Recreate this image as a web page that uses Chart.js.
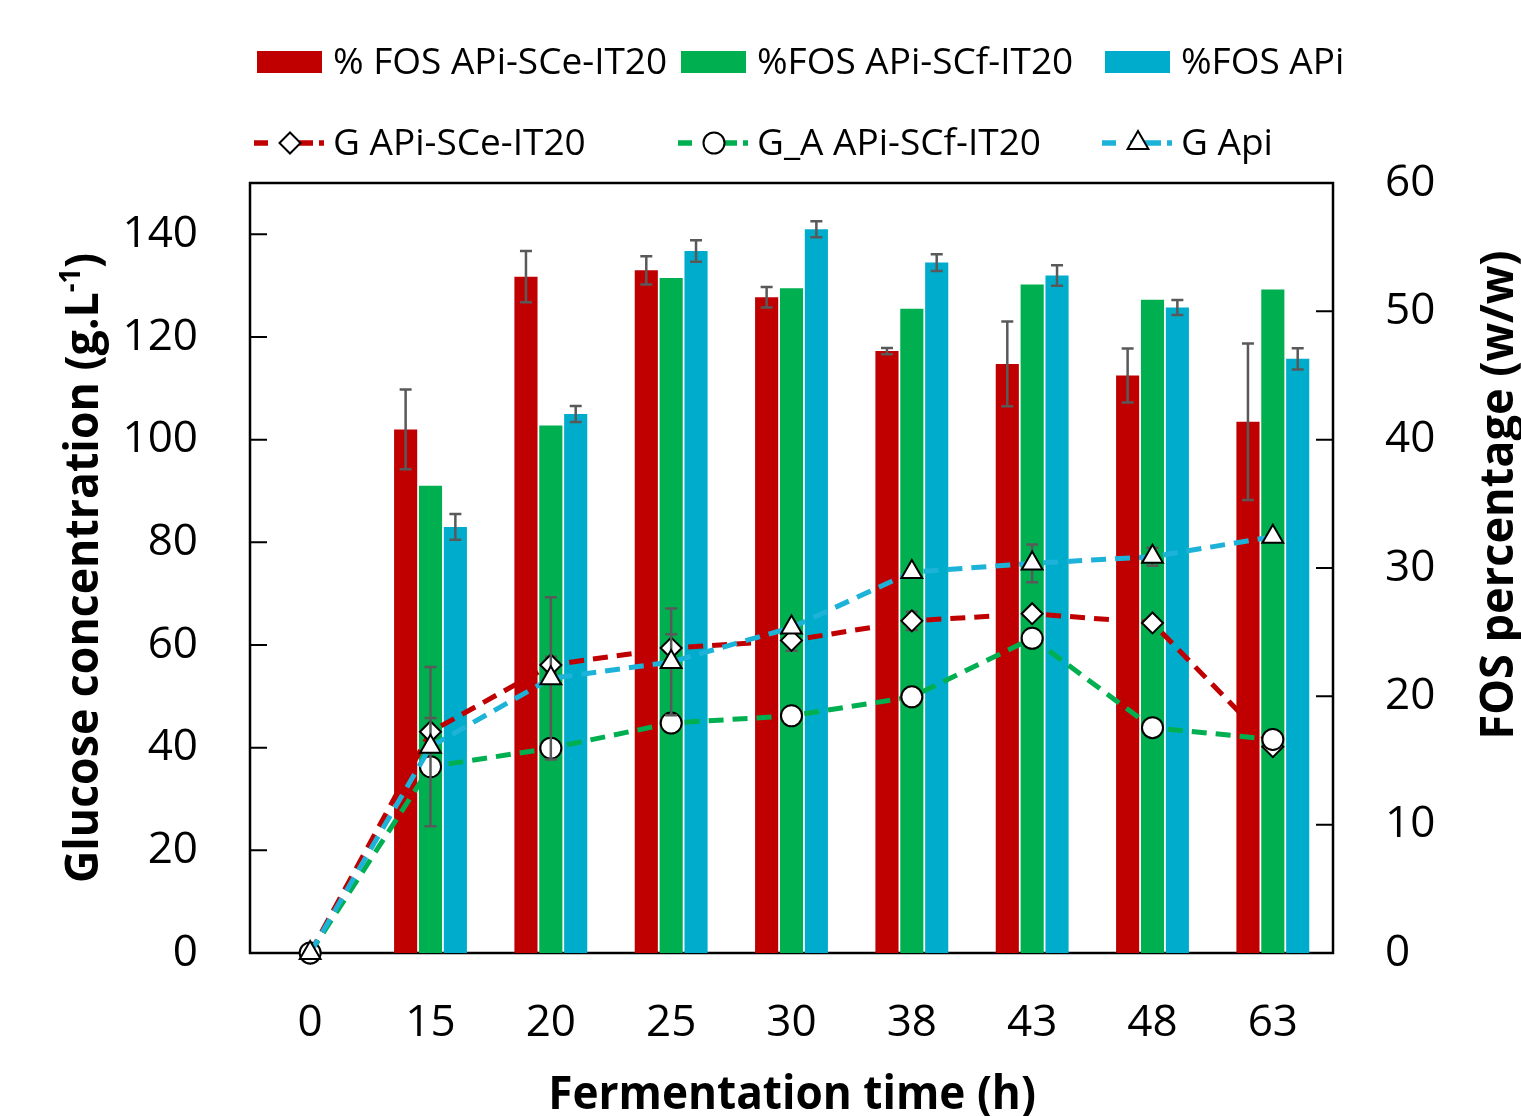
<!DOCTYPE html>
<html>
<head>
<meta charset="utf-8">
<script src="https://cdn.jsdelivr.net/npm/chart.js@4.4.1/dist/chart.umd.min.js"></script>
<style>
  body { margin: 0; background: #fff; }
  #wrap { width: 1521px; height: 1116px; }
</style>
</head>
<body>
<div id="wrap"><canvas id="chart"></canvas></div>
<script>
// fermentation time points (h)
const timeLabels = ['0', '15', '20', '25', '30', '38', '43', '48', '63'];

// FOS percentage (w/w) - bars, right axis
const fosSCe = [null, 40.8, 52.7, 53.2, 51.1, 46.9, 45.9, 45.0, 41.4];
const fosSCeErr = [0, 3.1, 2.0, 1.1, 0.8, 0.25, 3.3, 2.1, 6.1];
const fosSCf = [null, 36.4, 41.1, 52.6, 51.8, 50.2, 52.1, 50.9, 51.7];
const fosApi = [null, 33.2, 42.0, 54.7, 56.4, 53.8, 52.8, 50.3, 46.3];
const fosApiErr = [0, 1.0, 0.62, 0.83, 0.62, 0.65, 0.8, 0.58, 0.83];

// glucose concentration (g/L) - lines, left axis
const glcSCe = [0, 43.1, 56.1, 59.4, 60.9, 64.7, 66.1, 64.3, 40.2];
const glcSCeErr = [0, 2.7, 1.6, 2.7, 2.0, 1.8, 0, 0, 0];
const glcSCf = [0, 36.3, 39.9, 44.8, 46.2, 49.9, 61.3, 43.9, 41.6];
const glcApi = [0, 40.2, 53.5, 56.7, 63.4, 74.2, 75.9, 77.2, 81.1];
const glcApiErr = [0, 15.5, 15.8, 10.4, 0, 0, 3.7, 1.75, 0];

const RED = '#C00000';
const GREEN = '#00B050';
const BLUE = '#00ACCC';
const LBLUE = '#1DB3D9';
const FONT = "'Open Sans', sans-serif";

function drawErrors(chart, meta, index) {
  const ds = chart.data.datasets[index];
  if (!ds.errors) return;
  const ctx = chart.ctx;
  const sc = meta.yScale;
  ctx.save();
  ctx.strokeStyle = '#595959';
  ctx.lineWidth = 2.5;
  meta.data.forEach((el, j) => {
    const v = ds.data[j];
    const e = ds.errors[j];
    if (v == null || !e) return;
    const x = el.x;
    const yTop = sc.getPixelForValue(v + e);
    const yBot = sc.getPixelForValue(v - e);
    ctx.beginPath();
    ctx.moveTo(x, yTop); ctx.lineTo(x, yBot);
    ctx.moveTo(x - 6, yTop); ctx.lineTo(x + 6, yTop);
    ctx.moveTo(x - 6, yBot); ctx.lineTo(x + 6, yBot);
    ctx.stroke();
  });
  ctx.restore();
}

const errorBars = {
  id: 'errorBars',
  afterDatasetDraw(chart, args) {
    if (args.meta.type === 'bar') drawErrors(chart, args.meta, args.index);
  },
  beforeDatasetDraw(chart, args) {
    if (args.meta.type === 'line') drawErrors(chart, args.meta, args.index);
  }
};

// box around plot with inward ticks
const frame = {
  id: 'frame',
  beforeDatasetsDraw(chart) {
    const { ctx, chartArea: a, scales } = chart;
    ctx.save();
    ctx.strokeStyle = '#000';
    ctx.lineWidth = 2.5;
    ctx.strokeRect(a.left, a.top, a.right - a.left, a.bottom - a.top);
    ctx.lineWidth = 2;
    ctx.beginPath();
    scales.y.ticks.forEach(t => {
      const y = scales.y.getPixelForValue(t.value);
      ctx.moveTo(a.left, y); ctx.lineTo(a.left + 17, y);
    });
    scales.y1.ticks.forEach(t => {
      const y = scales.y1.getPixelForValue(t.value);
      ctx.moveTo(a.right, y); ctx.lineTo(a.right - 17, y);
    });
    ctx.stroke();
    ctx.restore();
  }
};

function drawMarker(ctx, style, x, y) {
  Chart.helpers.drawPoint(ctx, { pointStyle: style, radius: style === 'triangle' ? 12 : 10.5, rotation: 0, borderWidth: 2 }, x, y);
}

// legend + axis titles
const decor = {
  id: 'decor',
  afterDraw(chart) {
    const ctx = chart.ctx;
    const ds = chart.data.datasets;
    const textX = [333, 757, 1181];
    ctx.save();
    ctx.font = '37px ' + FONT;
    ctx.textBaseline = 'middle';
    ctx.textAlign = 'left';
    // row 1: bars
    for (let i = 0; i < 3; i++) {
      ctx.fillStyle = ds[i].backgroundColor;
      ctx.fillRect(textX[i] - 76, 51, 65, 22);
      ctx.fillStyle = '#000';
      ctx.fillText(ds[i].label, textX[i], 63);
    }
    // row 2: lines
    for (let i = 0; i < 3; i++) {
      const d = ds[i + 3];
      const s = textX[i] - 79;
      ctx.strokeStyle = d.borderColor;
      ctx.lineWidth = 5.5;
      ctx.beginPath();
      ctx.moveTo(s, 143); ctx.lineTo(s + 14, 143);
      ctx.moveTo(s + 28, 143); ctx.lineTo(s + 59, 143);
      ctx.moveTo(s + 65, 143); ctx.lineTo(s + 70, 143);
      ctx.stroke();
      ctx.fillStyle = '#fff';
      ctx.strokeStyle = '#000';
      ctx.lineWidth = 2;
      drawMarker(ctx, d.pointStyle, s + 36, 143);
      ctx.fillStyle = '#000';
      ctx.fillText(d.label, textX[i], 144);
    }

    ctx.font = 'bold 46px ' + FONT;
    ctx.fillStyle = '#000';
    // bottom title
    ctx.save();
    ctx.translate(792, 1109);
    ctx.scale(0.96, 1);
    ctx.textAlign = 'center';
    ctx.textBaseline = 'alphabetic';
    ctx.fillText('Fermentation time (h)', 0, 0);
    ctx.restore();

    // left title with superscript
    ctx.save();
    ctx.translate(98, 568);
    ctx.rotate(-Math.PI / 2);
    ctx.scale(0.97, 1);
    ctx.textBaseline = 'alphabetic';
    const p1 = 'Glucose concentration (g.L';
    const sup = '-1';
    const p3 = ')';
    ctx.font = 'bold 46px ' + FONT;
    const w1 = ctx.measureText(p1).width;
    const w3 = ctx.measureText(p3).width;
    ctx.font = 'bold 28px ' + FONT;
    const w2 = ctx.measureText(sup).width;
    let x = -(w1 + w2 + w3) / 2;
    ctx.font = 'bold 46px ' + FONT;
    ctx.fillText(p1, x, 0);
    x += w1;
    ctx.font = 'bold 28px ' + FONT;
    ctx.fillText(sup, x, -18);
    x += w2;
    ctx.font = 'bold 46px ' + FONT;
    ctx.fillText(p3, x, 0);
    ctx.restore();

    // right title, reading bottom to top
    ctx.save();
    ctx.translate(1513, 495);
    ctx.rotate(-Math.PI / 2);
    ctx.scale(0.98, 1);
    ctx.textAlign = 'center';
    ctx.textBaseline = 'alphabetic';
    ctx.fillText('FOS percentage (w/w)', 0, 0);
    ctx.restore();
    ctx.restore();
  }
};

const ctx = document.getElementById('chart').getContext('2d');

new Chart(ctx, {
  data: {
    labels: timeLabels,
    datasets: [
      {
        type: 'bar', label: '% FOS APi-SCe-IT20', data: fosSCe, errors: fosSCeErr,
        backgroundColor: RED, yAxisID: 'y1', order: 10
      },
      {
        type: 'bar', label: '%FOS APi-SCf-IT20', data: fosSCf,
        backgroundColor: GREEN, yAxisID: 'y1', order: 11
      },
      {
        type: 'bar', label: '%FOS APi', data: fosApi, errors: fosApiErr,
        backgroundColor: BLUE, yAxisID: 'y1', order: 12
      },
      {
        type: 'line', label: 'G APi-SCe-IT20', data: glcSCe, errors: glcSCeErr,
        borderColor: RED, pointStyle: 'rectRot', pointRadius: 10.5, order: 3
      },
      {
        type: 'line', label: 'G_A APi-SCf-IT20', data: glcSCf,
        borderColor: GREEN, pointStyle: 'circle', pointRadius: 10.5, order: 2
      },
      {
        type: 'line', label: 'G Api', data: glcApi, errors: glcApiErr,
        borderColor: LBLUE, pointStyle: 'triangle', pointRadius: 12, order: 1
      }
    ].map(d => d.type === 'line' ? Object.assign(d, {
      yAxisID: 'y', borderWidth: 5, borderDash: [15, 9], tension: 0, fill: false,
      pointBackgroundColor: '#fff', pointBorderColor: '#000', pointBorderWidth: 2,
      pointHoverRadius: d.pointRadius, clip: false
    }) : Object.assign(d, {
      barPercentage: 0.93, categoryPercentage: 0.62, borderWidth: 0
    }))
  },
  options: {
    responsive: true,
    maintainAspectRatio: false,
    animation: false,
    layout: { padding: { top: 183, left: 0, right: 0, bottom: 0 } },
    plugins: {
      legend: { display: false },
      tooltip: { enabled: false }
    },
    scales: {
      x: {
        offset: true,
        grid: { display: false, drawTicks: false },
        border: { display: false },
        ticks: { font: { family: FONT, size: 44 }, color: '#000', padding: 44 },
        afterFit(scale) { scale.height = 163; }
      },
      y: {
        position: 'left',
        min: 0, max: 150,
        grid: { display: false, drawTicks: false },
        border: { display: false },
        ticks: { stepSize: 20, font: { family: FONT, size: 44 }, color: '#000', padding: 52 },
        afterBuildTicks(scale) { scale.ticks = scale.ticks.filter(t => t.value <= 140); },
        afterFit(scale) { scale.width = 250; }
      },
      y1: {
        position: 'right',
        min: 0, max: 60,
        grid: { display: false, drawTicks: false },
        border: { display: false },
        ticks: { stepSize: 10, font: { family: FONT, size: 44 }, color: '#000', padding: 52 },
        afterFit(scale) { scale.width = 188; }
      }
    }
  },
  plugins: [frame, errorBars, decor]
});
</script>
</body>
</html>
